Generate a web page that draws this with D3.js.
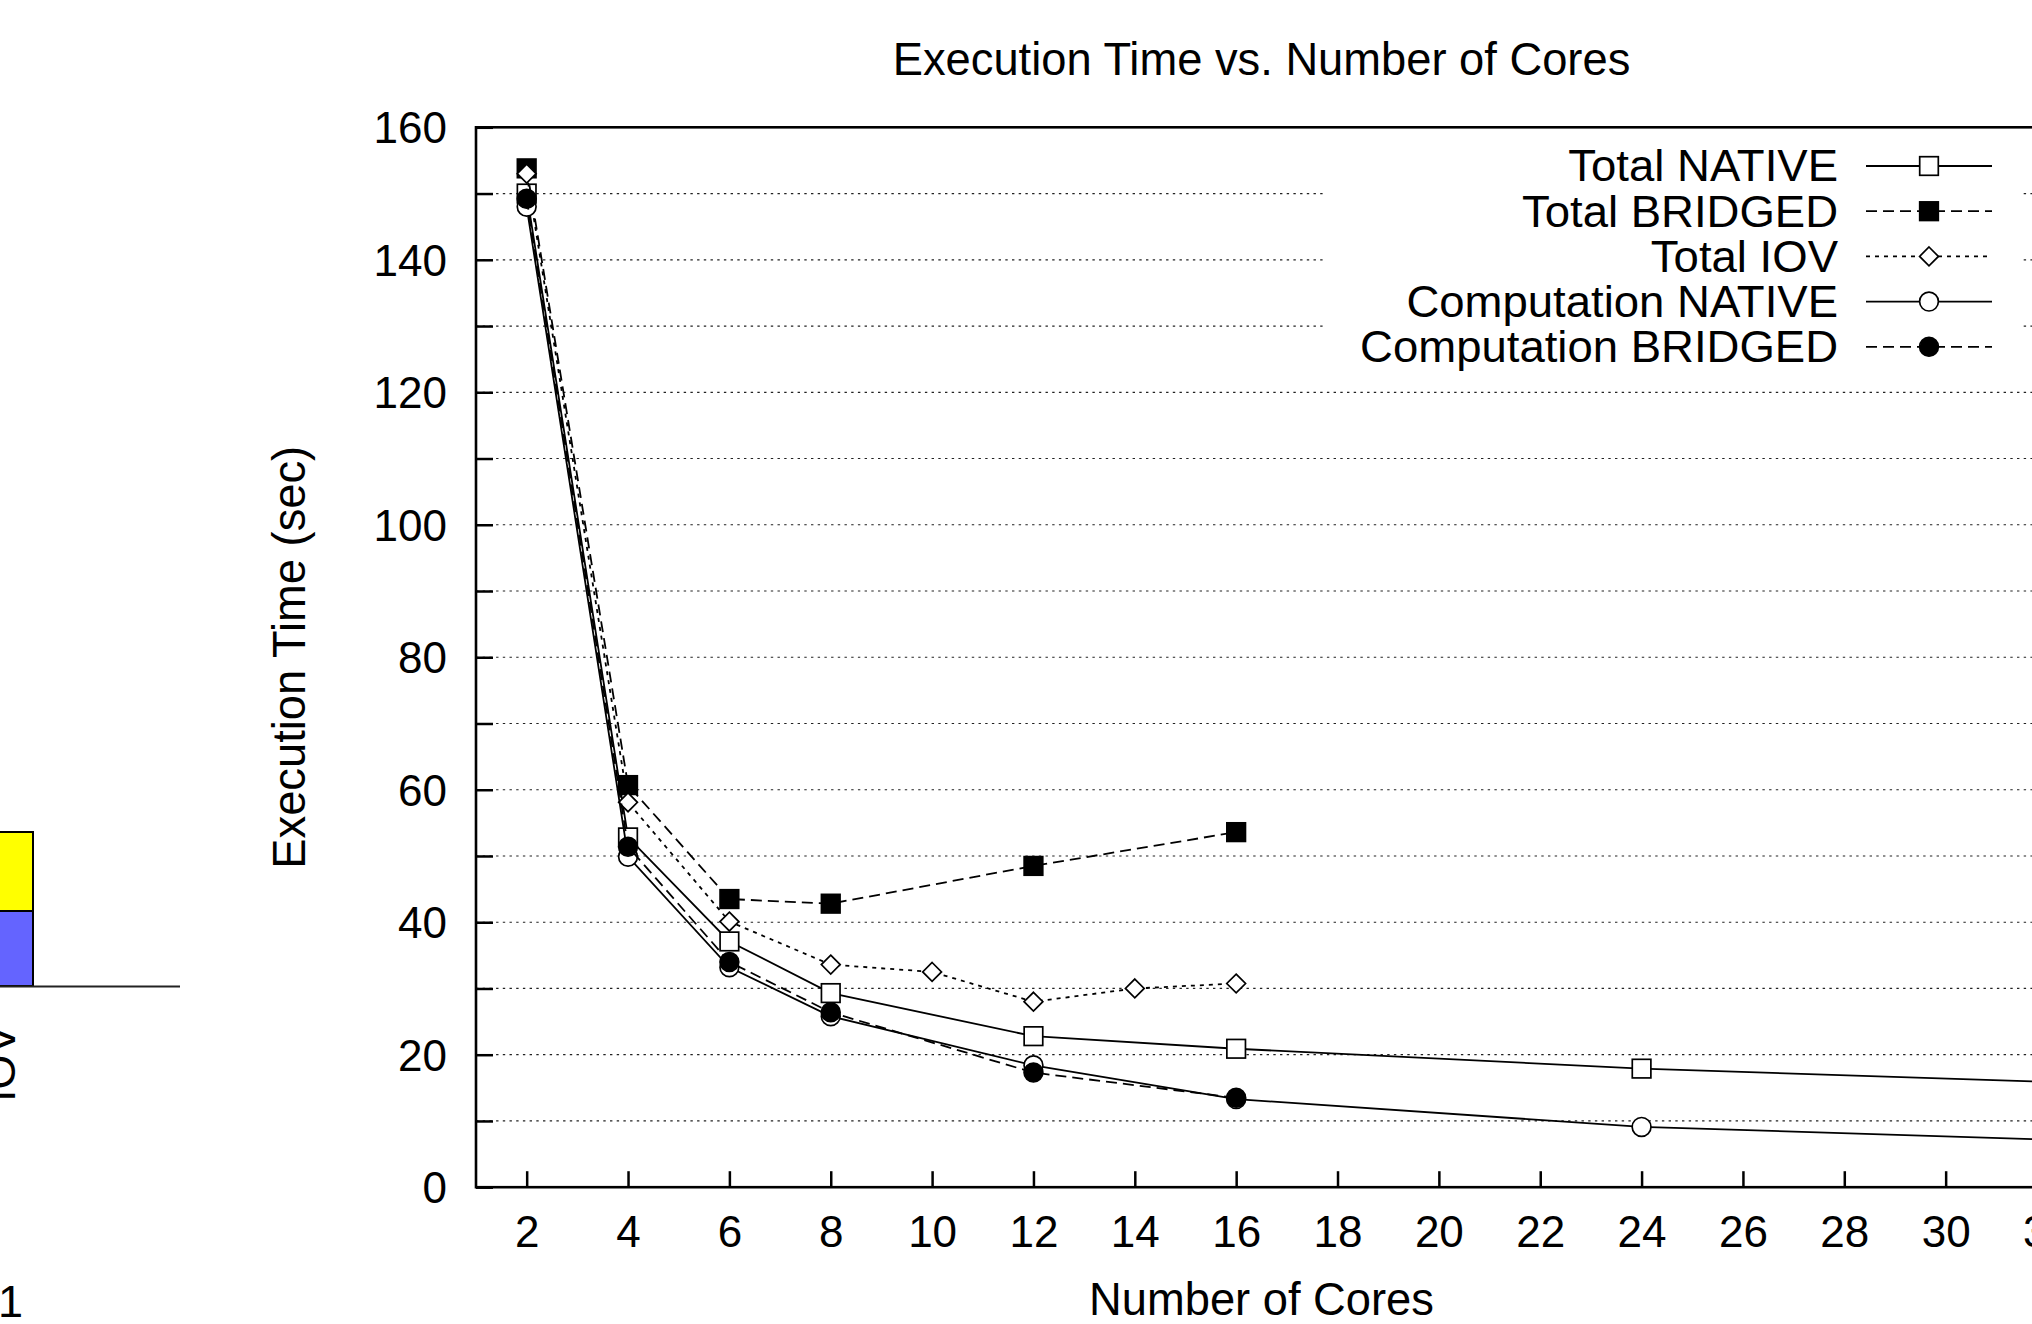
<!DOCTYPE html>
<html>
<head>
<meta charset="utf-8">
<script src="https://cdn.jsdelivr.net/npm/d3@7/dist/d3.min.js"></script>
<style>
  html, body { margin: 0; padding: 0; background: #fff; overflow: hidden; }
  svg { display: block; }
  text { font-family: "Liberation Sans", Arial, Helvetica, sans-serif; fill: #000; }
</style>
</head>
<body>
<svg id="chart" width="2032" height="1324"></svg>
<script>
// ---- data ----
const chartTitle = "Execution Time vs. Number of Cores";
const xAxisTitle = "Number of Cores";
const yAxisTitle = "Execution Time (sec)";

const xTickValues = [2, 4, 6, 8, 10, 12, 14, 16, 18, 20, 22, 24, 26, 28, 30, 32];
const yTickValues = [0, 10, 20, 30, 40, 50, 60, 70, 80, 90, 100, 110, 120, 130, 140, 150, 160];
const yLabelValues = [0, 20, 40, 60, 80, 100, 120, 140, 160];

const seriesNames = ["Total NATIVE", "Total BRIDGED", "Total IOV", "Computation NATIVE", "Computation BRIDGED"];

const totalNativeX = [2, 4, 6, 8, 12, 16, 24, 32];
const totalNativeY = [150.0, 52.8, 37.1, 29.3, 22.8, 20.9, 17.9, 15.9];

const totalBridgedX = [2, 4, 6, 8, 12, 16];
const totalBridgedY = [153.8, 60.7, 43.5, 42.8, 48.5, 53.6];

const totalIovX = [2, 4, 6, 8, 10, 12, 14, 16];
const totalIovY = [153.0, 58.1, 40.1, 33.6, 32.5, 28.0, 30.0, 30.75];

const compNativeX = [2, 4, 6, 8, 12, 16, 24, 32];
const compNativeY = [148.0, 49.9, 33.2, 25.8, 18.4, 13.3, 9.1, 7.2];

const compBridgedX = [2, 4, 6, 8, 12, 16];
const compBridgedY = [149.2, 51.4, 34.0, 26.4, 17.3, 13.5];

// neighbouring chart fragment at the left edge (stacked bar)
const fragCategory = "IOV";
const fragTickLabel = "1";
const fragStackColors = ["#6464ff", "#ffff00"];

(function () {
// ---- layout ----
const svg = d3.select("#chart");
const pL = 476, pR = 2047, pT = 127.3, pB = 1187.2;
const FONT = 44;

const x = d3.scaleLinear().domain([1, 32]).range([pL, pR]);
const y = d3.scaleLinear().domain([0, 160]).range([pB, pT]);

// gridlines
const grid = svg.append("g");
grid.selectAll("line").data(yTickValues.filter(v => v > 0 && v < 160)).join("line")
  .attr("x1", pL).attr("x2", pR)
  .attr("y1", d => y(d)).attr("y2", d => y(d))
  .attr("stroke", "#222").attr("stroke-width", 1.2)
  .attr("stroke-dasharray", "2.4,4.3");

// series
const series = [
  { name: seriesNames[0], xs: totalNativeX, ys: totalNativeY, dash: null, marker: "square", fill: "#fff" },
  { name: seriesNames[1], xs: totalBridgedX, ys: totalBridgedY, dash: "11,6", marker: "square", fill: "#000" },
  { name: seriesNames[2], xs: totalIovX, ys: totalIovY, dash: "4,5", marker: "diamond", fill: "#fff" },
  { name: seriesNames[3], xs: compNativeX, ys: compNativeY, dash: null, marker: "circle", fill: "#fff" },
  { name: seriesNames[4], xs: compBridgedX, ys: compBridgedY, dash: "11,6", marker: "circle", fill: "#000" }
];

const line = d3.line().x(d => x(d[0])).y(d => y(d[1]));

function drawMarker(g, type, cx, cy, fill) {
  if (type === "square") {
    g.append("rect").attr("x", cx - 9.3).attr("y", cy - 9.3).attr("width", 18.6).attr("height", 18.6)
      .attr("fill", fill).attr("stroke", "#000").attr("stroke-width", 1.7);
  } else if (type === "circle") {
    g.append("circle").attr("cx", cx).attr("cy", cy).attr("r", 9.4)
      .attr("fill", fill).attr("stroke", "#000").attr("stroke-width", 1.7);
  } else if (type === "diamond") {
    const r = 9.4;
    g.append("path").attr("d", `M${cx},${cy - r}L${cx + r},${cy}L${cx},${cy + r}L${cx - r},${cy}Z`)
      .attr("fill", fill).attr("stroke", "#000").attr("stroke-width", 1.7);
  }
}

series.forEach(s => {
  const pts = s.xs.map((v, i) => [v, s.ys[i]]);
  const g = svg.append("g");
  g.append("path").attr("d", line(pts)).attr("fill", "none")
    .attr("stroke", "#000").attr("stroke-width", 1.8)
    .attr("stroke-dasharray", s.dash);
  pts.forEach(p => drawMarker(g, s.marker, x(p[0]), y(p[1]), s.fill));
});

// legend (opaque key)
const key = svg.append("g");
key.append("rect").attr("x", 1324).attr("y", 131).attr("width", 696).attr("height", 240).attr("fill", "#fff");
series.forEach((s, i) => {
  const cy = 166 + i * 45.2;
  const t = key.append("text").attr("x", 1838).attr("y", cy).attr("dy", "0.35em")
    .attr("text-anchor", "end").attr("font-size", FONT).text(s.name);
  const w = t.node().getComputedTextLength();
  t.attr("textLength", w * 1.034).attr("lengthAdjust", "spacingAndGlyphs");
  key.append("line").attr("x1", 1866).attr("x2", 1992).attr("y1", cy).attr("y2", cy)
    .attr("stroke", "#000").attr("stroke-width", 1.8).attr("stroke-dasharray", s.dash);
  drawMarker(key, s.marker, 1929, cy, s.fill);
});

// axes
const xAxis = d3.axisBottom(x).tickValues(xTickValues).tickSize(0).tickPadding(0).tickFormat(d3.format("d"));
const gx = svg.append("g").attr("transform", `translate(0,${pB})`).call(xAxis);
gx.select(".domain").remove();
gx.selectAll("text").attr("font-size", FONT).attr("font-family", null).attr("fill", "#000").attr("y", 60).attr("dy", 0);
gx.selectAll(".tick").append("line").attr("y1", 0).attr("y2", -16).attr("stroke", "#000").attr("stroke-width", 2.5);

const yAxis = d3.axisLeft(y).tickValues(yTickValues).tickSize(0).tickPadding(0)
  .tickFormat(d => yLabelValues.includes(d) ? d3.format("d")(d) : "");
const gy = svg.append("g").attr("transform", `translate(${pL},0)`).call(yAxis);
gy.select(".domain").remove();
gy.selectAll("text").attr("font-size", FONT).attr("font-family", null).attr("fill", "#000").attr("x", -29).attr("dy", "0.35em");
gy.selectAll(".tick").append("line").attr("x1", 0).attr("x2", 17).attr("stroke", "#000").attr("stroke-width", 2.5);

// border
svg.append("rect").attr("x", pL).attr("y", pT).attr("width", pR - pL).attr("height", pB - pT)
  .attr("fill", "none").attr("stroke", "#000").attr("stroke-width", 2.6);

// titles
svg.append("text").attr("x", (pL + pR) / 2).attr("y", 75).attr("text-anchor", "middle")
  .attr("font-size", 45.3).text(chartTitle);
svg.append("text").attr("x", (pL + pR) / 2).attr("y", 1315).attr("text-anchor", "middle")
  .attr("font-size", 45.3).text(xAxisTitle);
svg.append("text").attr("transform", `translate(305,${(pT + pB) / 2}) rotate(-90)`)
  .attr("text-anchor", "middle").attr("font-size", 45.3).text(yAxisTitle);

// left fragment of neighbouring chart
const frag = svg.append("g");
const fy = d3.scaleLinear().domain([0, 1]).range([986, 832]);
const stack = [[0, 0.487], [0.487, 1]];
frag.selectAll("rect").data(stack).join("rect")
  .attr("x", -20).attr("width", 53)
  .attr("y", d => fy(d[1])).attr("height", d => fy(d[0]) - fy(d[1]))
  .attr("fill", (d, i) => fragStackColors[i]).attr("stroke", "#000").attr("stroke-width", 2);
frag.append("line").attr("x1", 0).attr("x2", 180).attr("y1", 986.5).attr("y2", 986.5)
  .attr("stroke", "#222").attr("stroke-width", 2.2);
frag.append("text").attr("transform", "translate(15,1102) rotate(-90)")
  .attr("font-size", 45).text(fragCategory);
frag.append("text").attr("x", -2).attr("y", 1317).attr("font-size", 45).text(fragTickLabel);
})();
</script>
</body>
</html>
